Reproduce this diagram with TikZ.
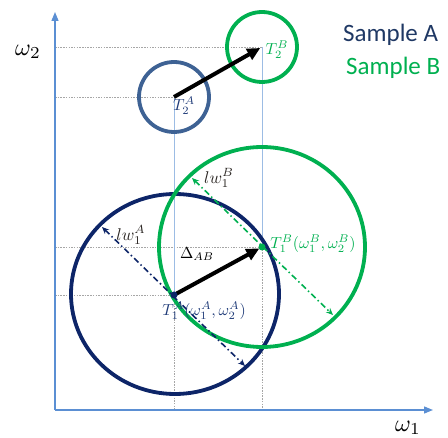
\documentclass[tikz,border=0pt]{standalone}
\usepackage{graphicx}
\usepackage{fontspec}
\newfontfamily\carlito{Carlito}
\usetikzlibrary{arrows.meta}
\definecolor{navy}{HTML}{0D2568}
\definecolor{smallA}{HTML}{3E6294}
\definecolor{grn}{HTML}{00B050}
\definecolor{axisblue}{HTML}{5B8FD3}
\definecolor{vline}{HTML}{9CBCE4}
\definecolor{gridgrey}{HTML}{A6A6A6}
\definecolor{labA}{HTML}{1F3B78}
\definecolor{lwcol}{HTML}{2A2522}
\definecolor{sampA}{HTML}{1F3864}
\newcommand{\mlbl}[2]{\scalebox{#1}{$#2$}}
\begin{document}
\begin{tikzpicture}[x=1pt,y=-1pt,
  axis/.style={draw=axisblue, line width=1.3pt, -{Triangle[length=9pt,width=7pt]}},
  guide/.style={draw=gridgrey, line width=0.7pt, dash pattern=on 1.5pt off 1.2pt},
  vguide/.style={draw=vline, line width=1pt},
  ring/.style={line width=3.8pt},
  shiftarrow/.style={draw=black, line width=4pt, -{Triangle[length=13pt,width=12pt]}},
  spread/.style={line width=1.6pt, dash pattern=on 6pt off 3pt on 1.5pt off 3pt, {Stealth[length=7pt,width=6pt]}-{Stealth[length=7pt,width=6pt]}},
  lbl/.style={inner sep=0pt},
  lwlbl/.style={inner sep=0pt, text=lwcol},
  axlbl/.style={inner sep=0pt},
  legend/.style={inner sep=0pt, anchor=base west, font=\carlito\fontsize{25}{28}\selectfont},
]
\useasboundingbox (0,0) rectangle (448,438);
% key points
\coordinate (O) at (55,410);
\coordinate (Yend) at (55,12);
\coordinate (Xend) at (433,410);
\coordinate (A2) at (174,97);
\coordinate (B2) at (262,47);
\coordinate (A1) at (174,295);
\coordinate (B1) at (262,247);
% guides
\draw[guide] (A2 -| O) -- (A2);
\draw[guide] (B2 -| O) -- (B2);
\draw[guide] (A1 -| O) -- (A1);
\draw[guide] (B1 -| O) -- (B1);
\draw[guide] (A1) -- (A1 |- O);
\draw[guide] (B1) -- (B1 |- O);
\draw[vguide] (A2) -- (A1);
\draw[vguide] (B2) -- (B1);
% axes
\draw[axis] (O) -- (Yend);
\draw[axis] (O) -- (Xend);
% circles
\draw[ring, smallA] (A2) circle (35pt);
\draw[ring, grn] (B2) circle (35pt);
\draw[ring, navy] (175,294) ellipse [x radius=104pt, y radius=100pt];
\draw[ring, grn] (262,247) ellipse [x radius=103pt, y radius=100pt];
% spread arrows
\coordinate (aUL) at (102,227);
\coordinate (aDR) at (245,366);
\coordinate (bUL) at (192,178);
\coordinate (bDR) at (333,315);
\draw[spread, navy] (aUL) -- (aDR);
\draw[spread, grn] (bUL) -- (bDR);
% shift arrows
\draw[shiftarrow, shorten >=2pt] (A2) -- (B2);
\draw[shiftarrow, shorten >=3pt] (A1) -- (B1);
% points
\fill[navy] (A1) circle (3.5pt);
\fill[grn] (B1) circle (3.5pt);
% labels
\node[lbl, text=labA] (tA2) at (184,106) {\mlbl{1.6}{T_2^A}};
\node[lbl, text=grn] (tB2) at (277,50) {\mlbl{1.6}{T_2^B}};
\node[lbl, text=labA] (tA1) at (204,311) {\mlbl{1.6}{T_1^A(\omega_1^A,\omega_2^A)}};
\node[lbl, text=grn] (tB1) at (313,244) {\mlbl{1.6}{T_1^B(\omega_1^B,\omega_2^B)}};
\node[lwlbl] (lwA) at (131,235) {\mlbl{1.7}{lw_1^A}};
\node[lwlbl] (lwB) at (219,178) {\mlbl{1.7}{lw_1^B}};
\node[lbl] (dAB) at (197,254) {\mlbl{1.6}{\Delta_{AB}}};
\node[axlbl] (w2) at (28,52) {\mlbl{2.4}{\omega_2}};
\node[axlbl] (w1) at (408,428) {\mlbl{2.4}{\omega_1}};
\node[legend, text=sampA] (sA) at (343,42) {Sample A};
\node[legend, text=grn] (sB) at (346,75) {Sample B};
\end{tikzpicture}
\end{document}
